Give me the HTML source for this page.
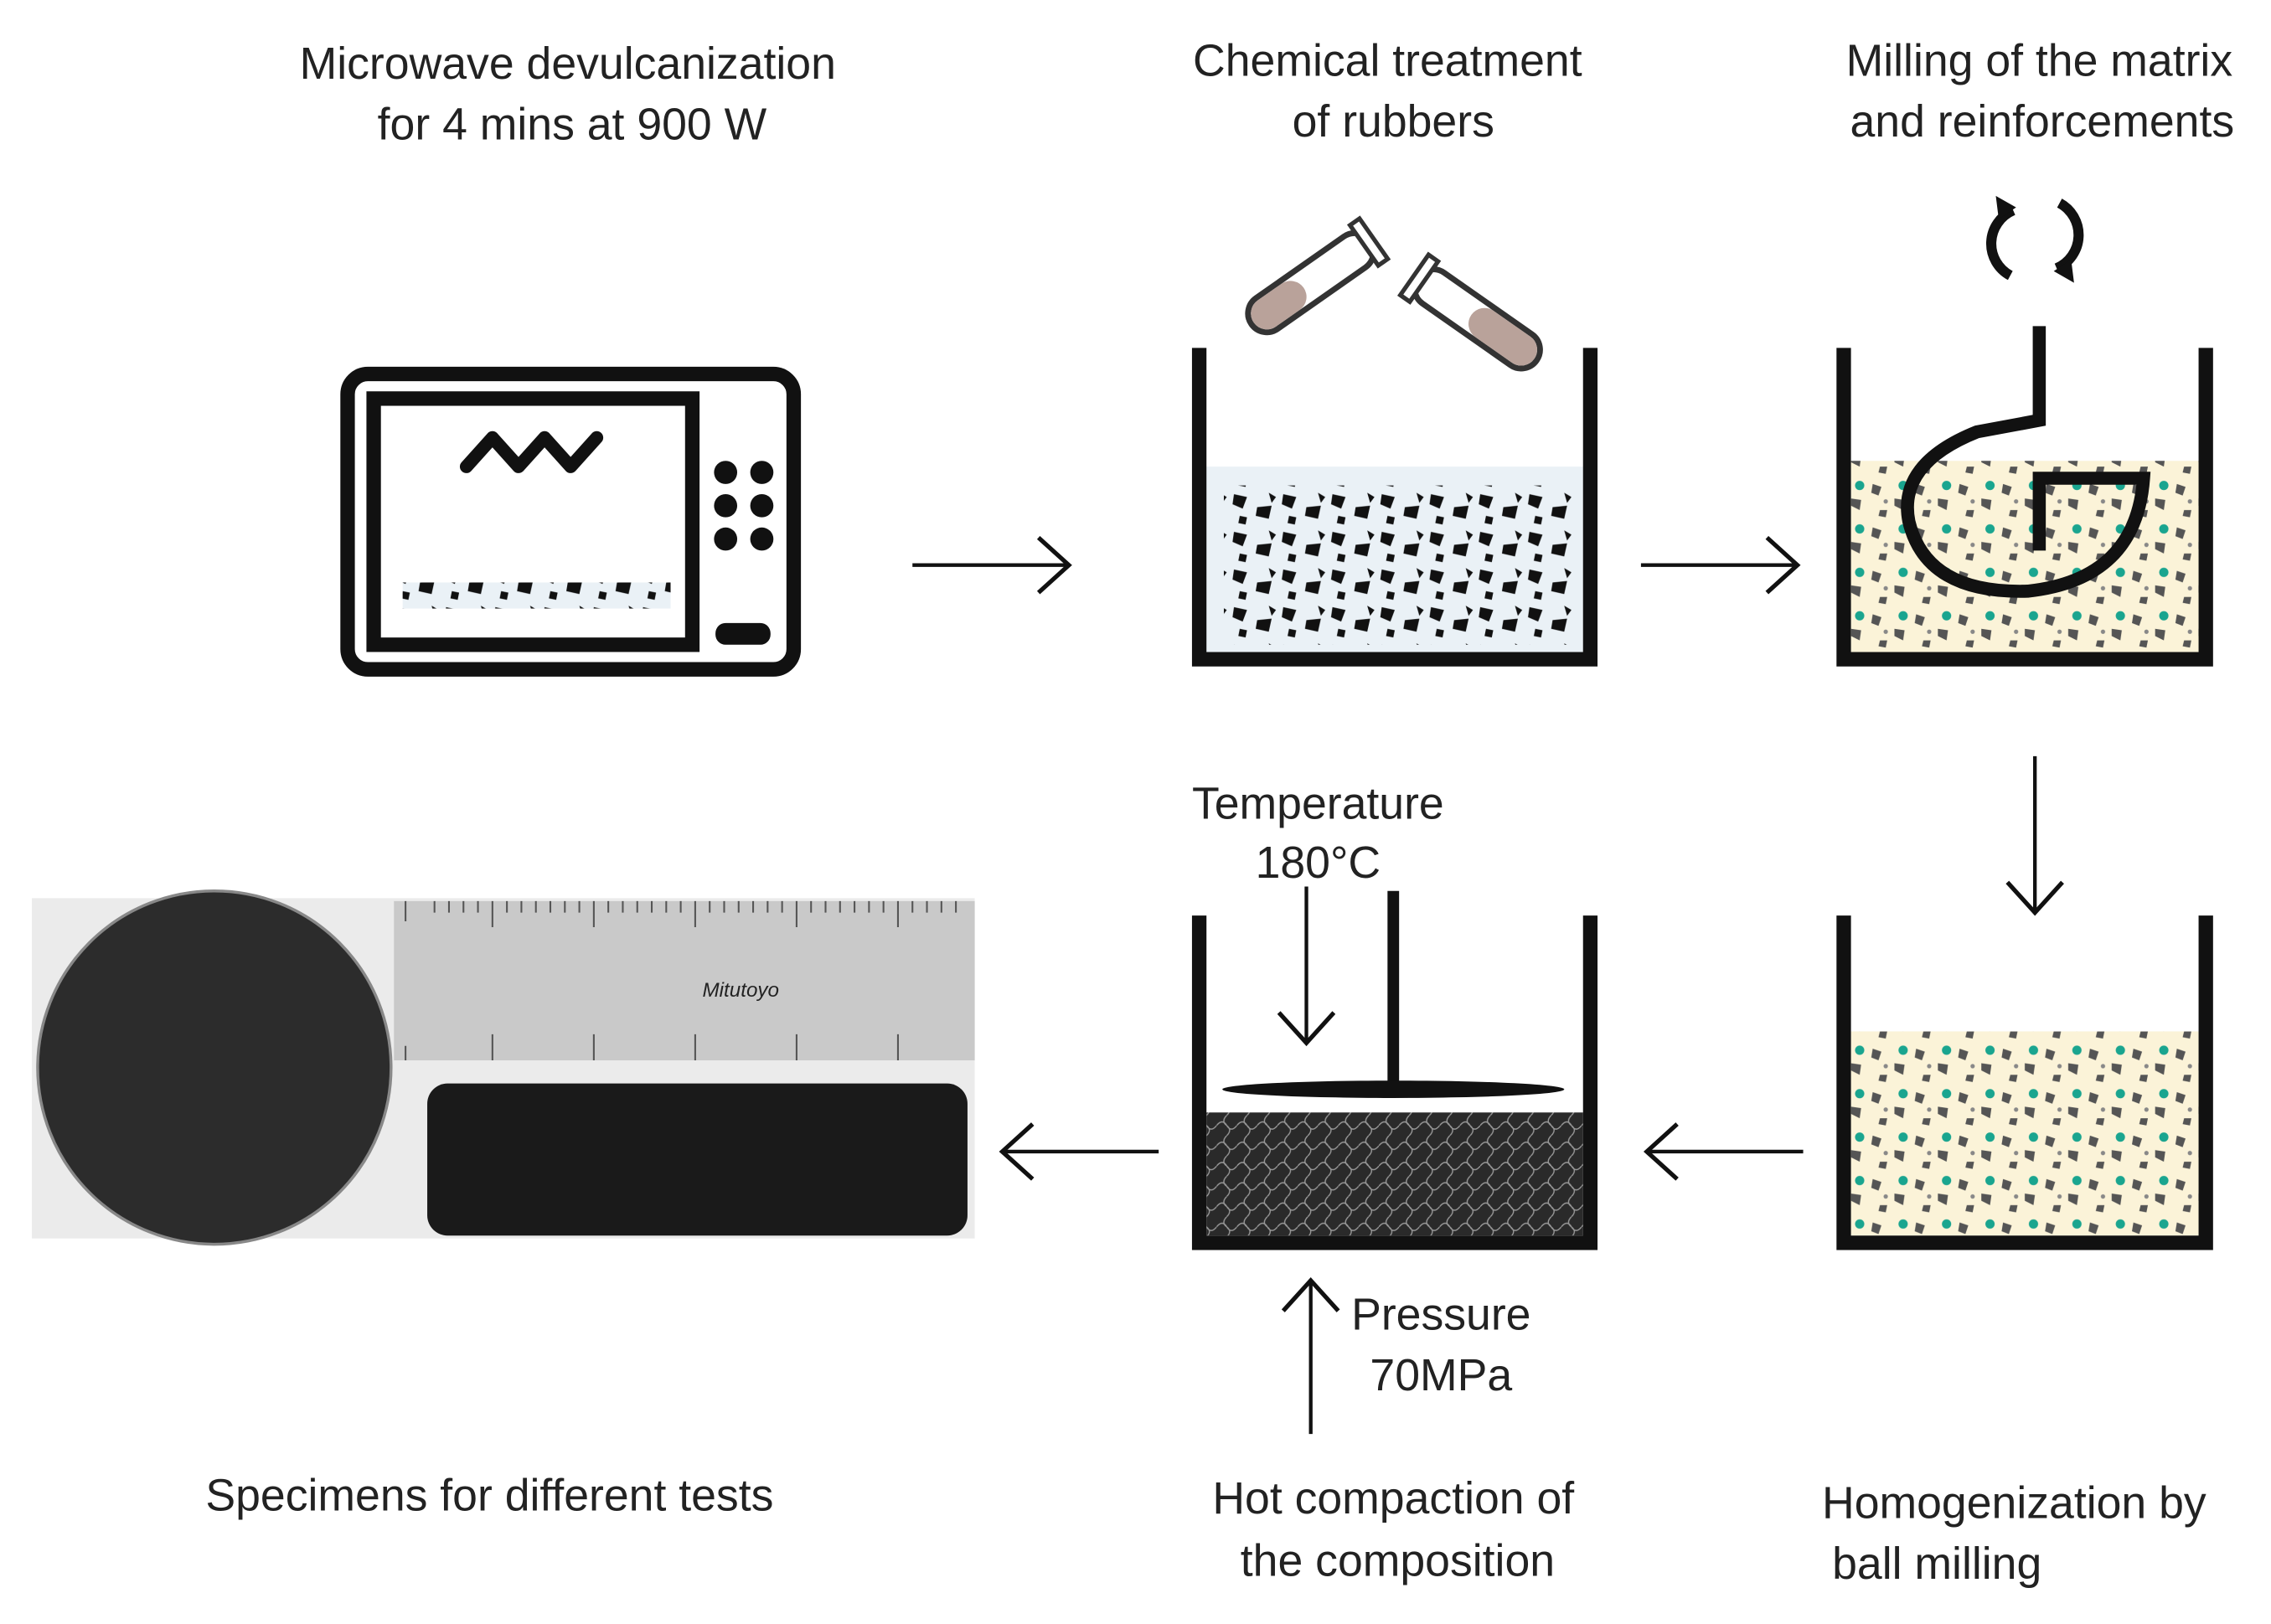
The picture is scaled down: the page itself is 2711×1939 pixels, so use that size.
<!DOCTYPE html>
<html><head><meta charset="utf-8"><style>
html,body{margin:0;padding:0;background:#fff;}
svg{display:block;}
text{font-family:"Liberation Sans",sans-serif;fill:#222;font-size:31px;}
</style></head><body>
<svg width="2711" height="1939" viewBox="0 0 1568 1121" xmlns="http://www.w3.org/2000/svg">
<defs>
<marker id="ah" markerWidth="26" markerHeight="44" refX="22" refY="20" orient="auto" markerUnits="userSpaceOnUse">
<path d="M1,1 L22,20 L1,39" fill="none" stroke="#111" stroke-width="3"/></marker>
<pattern id="gr" width="30" height="30" patternUnits="userSpaceOnUse">
<rect width="30" height="30" fill="#fbf3d8"/>
<path d="M3,4 l6,2 -2,6 -5,-2z M18,14 l7,1 -1,7 -6,-3z M8,22 l5,0 -1,5 -5,-1z" fill="#555"/>
<circle cx="24" cy="5" r="3.2" fill="#1aa58f"/><circle cx="12" cy="16" r="1.5" fill="#888"/>
</pattern>
<pattern id="bk" width="34" height="26" patternUnits="userSpaceOnUse">
<rect width="34" height="26" fill="#eaf1f6"/>
<path d="M2,3 l9,2 -3,8 -7,-3z M18,12 l10,-1 -2,9 -9,-2z M6,18 l5,1 -1,5 -5,-1z M26,2 l5,3 -3,4z" fill="#111"/>
</pattern>
<pattern id="cr" width="14" height="14" patternUnits="userSpaceOnUse">
<rect width="14" height="14" fill="#2a2a2a"/>
<path d="M0,7 Q4,2 7,7 T14,7 M7,0 Q3,4 7,7 T7,14" stroke="#999" stroke-width="0.8" fill="none"/>
</pattern>
</defs>

<text x="392" y="54" text-anchor="middle">Microwave devulcanization</text>
<text x="395" y="96" text-anchor="middle">for 4 mins at 900 W</text>
<text x="958" y="52" text-anchor="middle">Chemical treatment</text>
<text x="962" y="94" text-anchor="middle">of rubbers</text>
<text x="1408" y="52" text-anchor="middle">Milling of the matrix</text>
<text x="1410" y="94" text-anchor="middle">and reinforcements</text>

<rect x="240" y="258" width="308" height="204" rx="14" fill="none" stroke="#111" stroke-width="10"/>
<rect x="258" y="275" width="220" height="170" fill="none" stroke="#111" stroke-width="10"/>
<path d="M322,322 L340,302 L358,322 L376,302 L394,322 L412,302" fill="none" stroke="#111" stroke-width="9" stroke-linecap="round" stroke-linejoin="round"/>
<g fill="#111"><circle cx="501" cy="326" r="8"/><circle cx="526" cy="326" r="8"/><circle cx="501" cy="349" r="8"/><circle cx="526" cy="349" r="8"/><circle cx="501" cy="372" r="8"/><circle cx="526" cy="372" r="8"/>
<rect x="494" y="430" width="38" height="15" rx="7"/>
<rect x="278" y="402" width="185" height="18" fill="url(#bk)"/></g>
<line x1="630" y1="390" x2="738" y2="390" stroke="#111" stroke-width="2.5" marker-end="url(#ah)"/>

<rect x="833" y="322" width="260" height="128" fill="#eaf1f6"/>
<rect x="845" y="335" width="240" height="110" fill="url(#bk)"/>
<path d="M828,240 V455 H1098 V240" fill="none" stroke="#111" stroke-width="10"/>
<g transform="rotate(-35 905 195)"><rect x="855" y="182" width="100" height="26" rx="13" fill="#fff" stroke="#333" stroke-width="4"/><rect x="857" y="184" width="42" height="22" rx="11" fill="#b9a29a"/><rect x="950" y="178" width="8" height="34" fill="#fff" stroke="#333" stroke-width="3"/></g>
<g transform="rotate(35 1020 220)"><rect x="970" y="207" width="100" height="26" rx="13" fill="#fff" stroke="#333" stroke-width="4"/><rect x="1015" y="209" width="53" height="22" rx="11" fill="#b9a29a"/><rect x="967" y="203" width="8" height="34" fill="#fff" stroke="#333" stroke-width="3"/></g>
<line x1="1133" y1="390" x2="1241" y2="390" stroke="#111" stroke-width="2.5" marker-end="url(#ah)"/>

<rect x="1278" y="318" width="240" height="132" fill="url(#gr)"/>
<path d="M1273,240 V455 H1523 V240" fill="none" stroke="#111" stroke-width="10"/>
<path d="M1408,225 V290 L1365,298 Q1310,320 1318,360 Q1330,410 1400,408 Q1475,400 1480,330 L1408,330 L1408,380" fill="none" stroke="#111" stroke-width="9"/>
<path d="M1390,145 A25,25 0 0 0 1388,190 M1420,185 A25,25 0 0 0 1422,140" fill="none" stroke="#111" stroke-width="7"/>
<path d="M1378,135 l14,8 -12,8z M1432,195 l-14,-8 12,-8z" fill="#111"/>
<line x1="1405" y1="522" x2="1405" y2="630" stroke="#111" stroke-width="2.5" marker-end="url(#ah)"/>

<rect x="1278" y="712" width="240" height="141" fill="url(#gr)"/>
<path d="M1273,632 V858 H1523 V632" fill="none" stroke="#111" stroke-width="10"/>
<line x1="1245" y1="795" x2="1137" y2="795" stroke="#111" stroke-width="2.5" marker-end="url(#ah)"/>

<text x="910" y="565" text-anchor="middle">Temperature</text>
<text x="910" y="606" text-anchor="middle">180°C</text>
<line x1="902" y1="612" x2="902" y2="720" stroke="#111" stroke-width="2.5" marker-end="url(#ah)"/>
<rect x="833" y="768" width="260" height="85" fill="url(#cr)"/>
<line x1="962" y1="615" x2="962" y2="750" stroke="#111" stroke-width="8"/>
<ellipse cx="962" cy="752" rx="118" ry="6" fill="#111"/>
<path d="M828,632 V858 H1098 V632" fill="none" stroke="#111" stroke-width="10"/>
<line x1="905" y1="990" x2="905" y2="884" stroke="#111" stroke-width="2.5" marker-end="url(#ah)"/>
<text x="995" y="918" text-anchor="middle">Pressure</text>
<text x="995" y="960" text-anchor="middle">70MPa</text>
<text x="962" y="1045" text-anchor="middle">Hot compaction of</text>
<text x="965" y="1088" text-anchor="middle">the composition</text>
<line x1="800" y1="795" x2="692" y2="795" stroke="#111" stroke-width="2.5" marker-end="url(#ah)"/>
<text x="1258" y="1048">Homogenization by</text>
<text x="1265" y="1090">ball milling</text>

<rect x="22" y="620" width="651" height="235" fill="#ebebeb"/>
<rect x="272" y="622" width="401" height="110" fill="#c9c9c9"/>
<g stroke="#555" stroke-width="1.2">
<path d="M280,622 v14 M300,622 v8 M310,622 v8 M320,622 v8 M330,622 v8 M340,622 v18 M350,622 v8 M360,622 v8 M370,622 v8 M380,622 v8 M390,622 v8 M400,622 v8 M410,622 v18 M420,622 v8 M430,622 v8 M440,622 v8 M450,622 v8 M460,622 v8 M470,622 v8 M480,622 v18 M490,622 v8 M500,622 v8 M510,622 v8 M520,622 v8 M530,622 v8 M540,622 v8 M550,622 v18 M560,622 v8 M570,622 v8 M580,622 v8 M590,622 v8 M600,622 v8 M610,622 v8 M620,622 v18 M630,622 v8 M640,622 v8 M650,622 v8 M660,622 v8"/>
<path d="M280,732 v-10 M340,732 v-18 M410,732 v-18 M480,732 v-18 M550,732 v-18 M620,732 v-18"/>
</g>
<text x="485" y="688" style="font-size:14px;font-style:italic" fill="#444">Mitutoyo</text>
<circle cx="148" cy="737" r="122" fill="#2c2c2c" stroke="#888" stroke-width="2"/>
<rect x="295" y="748" width="373" height="105" rx="14" fill="#1a1a1a"/>
<text x="338" y="1043" text-anchor="middle">Specimens for different tests</text>
</svg>
</body></html>
